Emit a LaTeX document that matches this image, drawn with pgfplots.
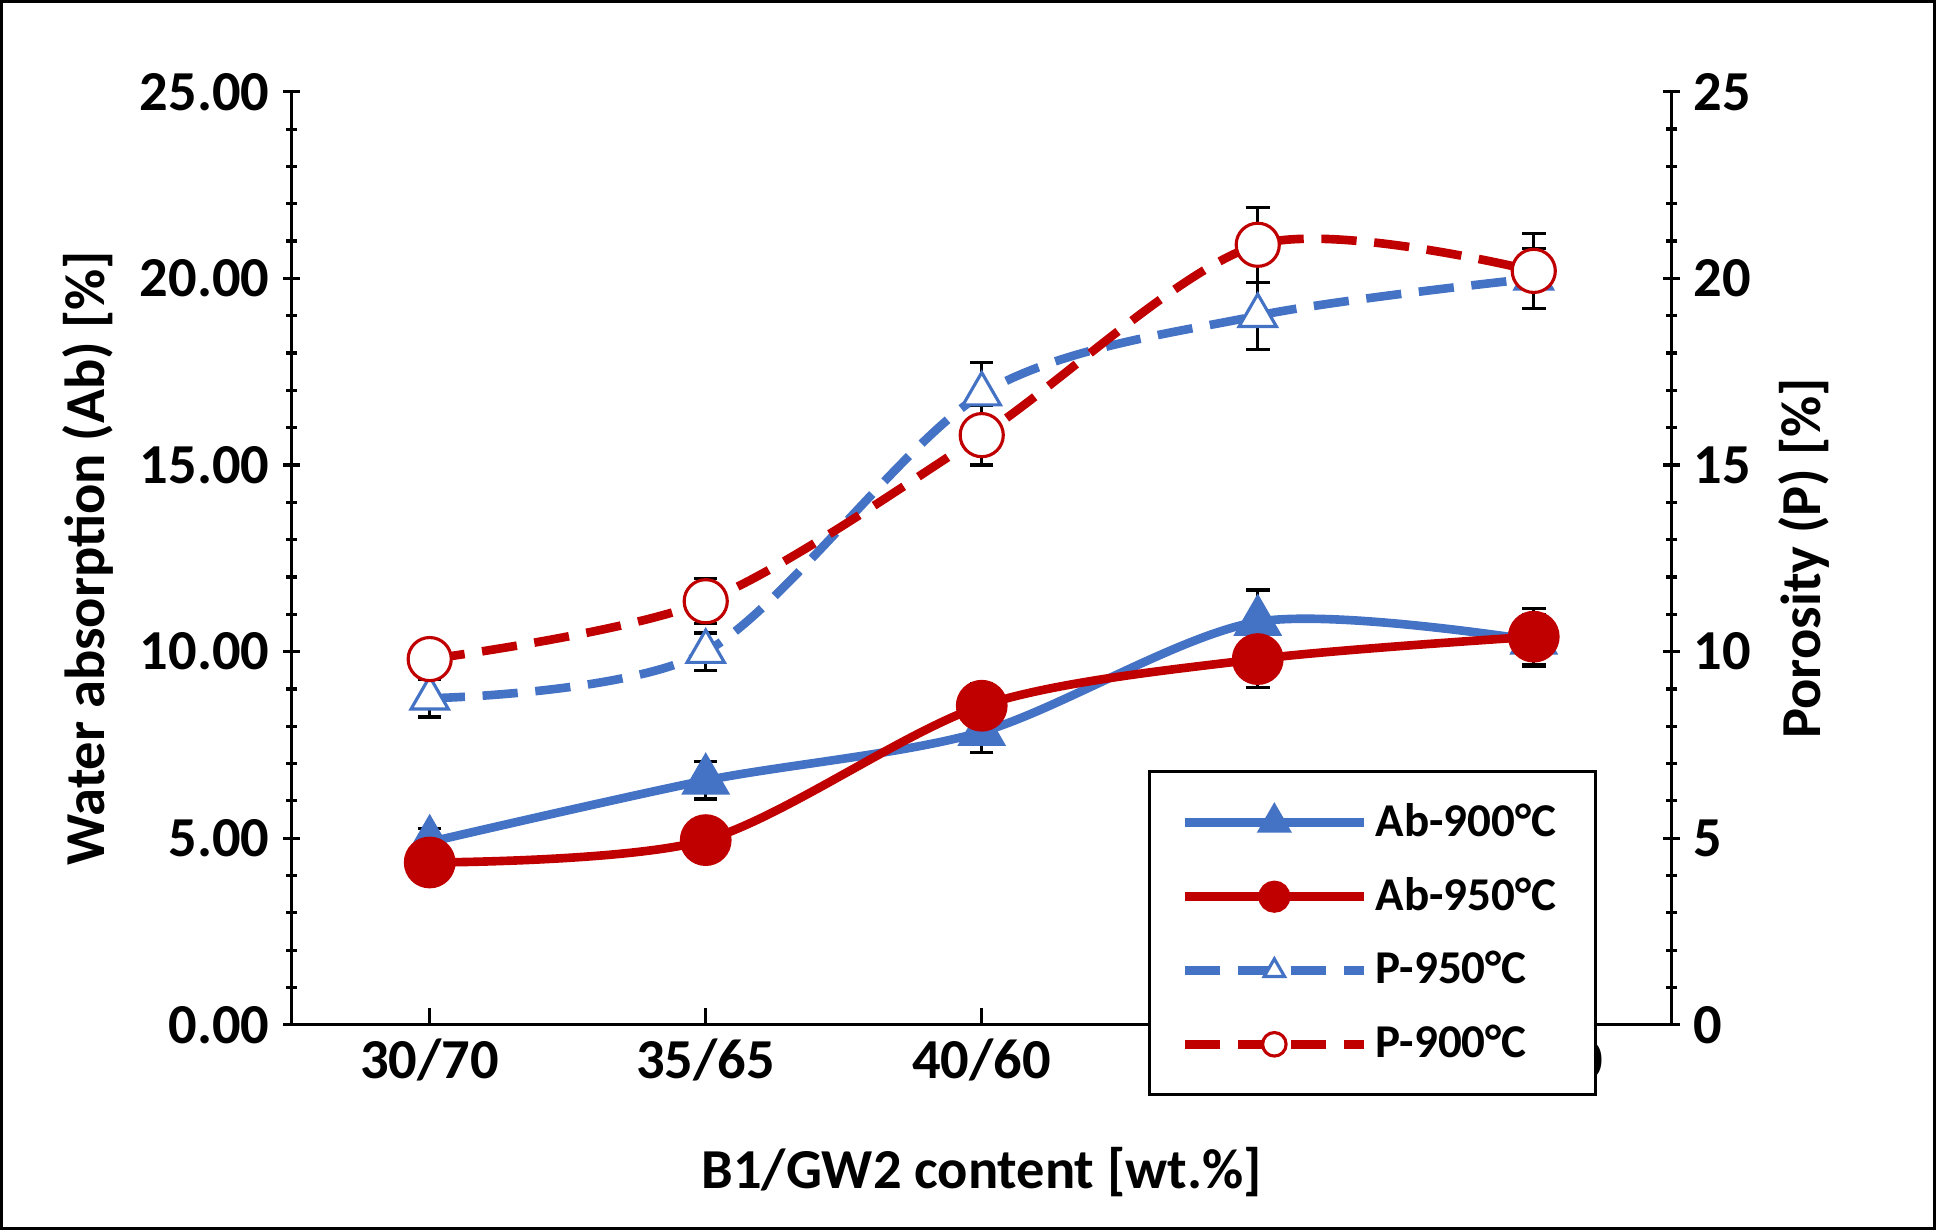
\documentclass[border=0pt]{standalone}
\usepackage{pgfplots}
\pgfplotsset{compat=1.18}
\usepackage{fontspec}
\setmainfont{Carlito}
\definecolor{cb}{HTML}{4472C4}
\definecolor{cr}{HTML}{C00000}
\begin{document}
\begin{tikzpicture}[font=\bfseries]
\pgfplotsset{
 base/.style={width=352pt,height=238pt,scale only axis,xmin=-0.5,xmax=4.5,ymin=0,ymax=25,
 xtick={0,1,2,3,4},xticklabels={30/70,35/65,40/60,45/55,50/50},
 tick style={black,thick},minor y tick num=4,
 ticklabel style={font=\Large\bfseries},
 /pgf/number format/assume math mode=true,
 axis line style={thick}},
}
\begin{axis}[base,
 axis y line*=left, axis x line*=bottom,
 ytick={0,5,10,15,20,25},
 yticklabel style={/pgf/number format/.cd,fixed,fixed zerofill,precision=2},
 xtick pos=bottom, xtick align=inside,
 ytick align=center,
 xlabel={B1/GW2 content [wt.\%]}, ylabel={Water absorption (Ab) [\%]},
 label style={font=\Large\bfseries},
 xlabel style={yshift=-10pt},
 legend style={at={(0.946,0.273)},anchor=north east,draw=black,thick,font=\large\bfseries,
   row sep=5pt,inner xsep=8pt,inner ysep=6pt,cells={anchor=west}},
 legend image code/.code={\draw[#1,mark size=3pt,mark repeat=2,mark phase=2] plot coordinates {(0cm,0cm) (0.8cm,0cm) (1.6cm,0cm)};},
 error bars/error bar style={black,thick,solid},
 error bars/error mark options={black,thick,solid,rotate=90,mark size=3pt},
]
\coordinate (sw) at (rel axis cs:0,0);
\coordinate (ne) at (rel axis cs:1,1);
\addplot[cb,line width=2.2pt,smooth,tension=0.5,mark=triangle*,mark size=5pt,mark options={solid,fill=cb},
 error bars/.cd,y dir=both,y explicit] coordinates {
(0,4.9) +- (0,0.35) (1,6.55) +- (0,0.5) (2,7.85) +- (0,0.55) (3,10.8) +- (0,0.85) (4,10.3) +- (0,0.7)};
\addlegendentry{Ab-900°C}
\addplot[cr,line width=2.2pt,smooth,tension=0.5,mark=*,mark size=5.5pt,mark options={solid,fill=cr},
 error bars/.cd,y dir=both,y explicit] coordinates {
(0,4.35) +- (0,0.3) (1,4.95) +- (0,0.3) (2,8.55) +- (0,0.6) (3,9.8) +- (0,0.75) (4,10.4) +- (0,0.75)};
\addlegendentry{Ab-950°C}
\addplot[cb,line width=2.2pt,dash pattern=on 9pt off 4.5pt,smooth,tension=0.5,mark=triangle*,mark size=5.5pt,mark options={solid,fill=white,line width=0.8pt},
 error bars/.cd,y dir=both,y explicit] coordinates {
(0,8.75) +- (0,0.5) (1,10.0) +- (0,0.5) (2,16.9) +- (0,0.85) (3,19.0) +- (0,0.9) (4,20.0) +- (0,0.8)};
\addlegendentry{P-950°C}
\addplot[cr,line width=2.2pt,dash pattern=on 9pt off 4.5pt,smooth,tension=0.5,mark=*,mark size=5.5pt,mark options={solid,fill=white,line width=0.8pt},
 error bars/.cd,y dir=both,y explicit] coordinates {
(0,9.8) +- (0,0.5) (1,11.35) +- (0,0.6) (2,15.8) +- (0,0.8) (3,20.9) +- (0,1.0) (4,20.2) +- (0,1.0)};
\addlegendentry{P-900°C}
\end{axis}
\begin{axis}[base,
 axis y line*=right, axis x line=none,
 ytick={0,5,10,15,20,25}, ytick align=center,
 ylabel={Porosity (P) [\%]},
 label style={font=\Large\bfseries},
]
\addplot[draw=none] coordinates {(0,0)};
\end{axis}
\draw[thick] ([shift={(-74pt,-52pt)}]sw) rectangle ([shift={(67pt,23pt)}]ne);
\end{tikzpicture}
\end{document}
